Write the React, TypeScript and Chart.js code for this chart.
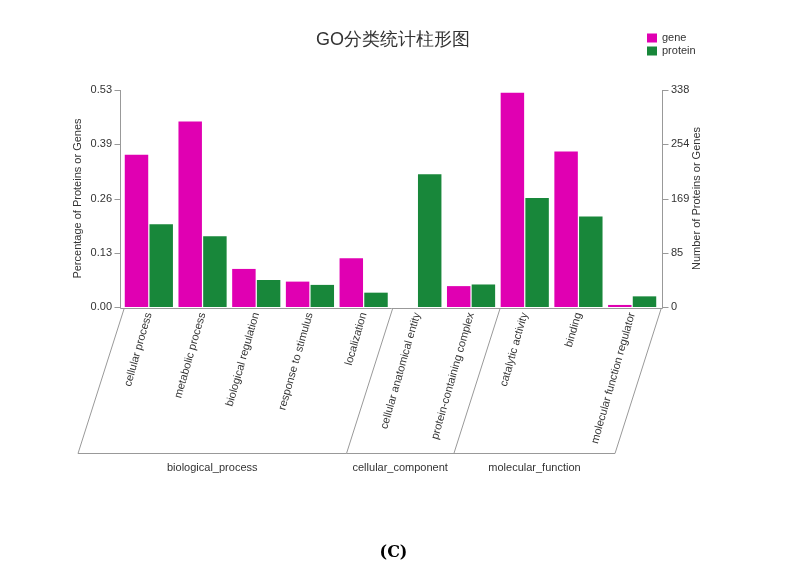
import React, { useEffect, useRef } from "react";
import { Chart, registerables } from "chart.js";

Chart.register(...registerables);

const titleText = "GO分类统计柱形图";
const categories = [
  "cellular process",
  "metabolic process",
  "biological regulation",
  "response to stimulus",
  "localization",
  "cellular anatomical entity",
  "protein-containing complex",
  "catalytic activity",
  "binding",
  "molecular function regulator",
];
const groupNames = ["biological_process", "cellular_component", "molecular_function"];
const groupBounds = [0, 5, 7, 10];
const genePct = [0.372, 0.453, 0.093, 0.062, 0.119, 0, 0.051, 0.523, 0.38, 0.005];
const proteinPct = [0.202, 0.173, 0.066, 0.054, 0.035, 0.324, 0.055, 0.266, 0.221, 0.026];
const leftMax = 0.53;
const rightMax = 338;
const leftTickLabels = ["0.00", "0.13", "0.26", "0.39", "0.53"];
const rightTickLabels = ["0", "85", "169", "254", "338"];
const leftAxisTitle = "Percentage of Proteins or Genes";
const rightAxisTitle = "Number of Proteins or Genes";
const seriesNames = ["gene", "protein"];
const seriesColors = ["#e000b2", "#18873a"];
const caption = "(C)";

const FONT = "'Liberation Sans', Arial, sans-serif";
const TEXT = "#333";
const LINE = "#999";

const overlay = {
  id: "overlay",
  afterDraw(chart: any) {
    const ctx = chart.ctx;
    const ca = chart.chartArea;
    const xs = chart.scales.x;
    const yl = chart.scales.y;
    const yr = chart.scales.y2;
    ctx.save();

    // title
    ctx.fillStyle = TEXT;
    ctx.font = `18px ${FONT}`;
    ctx.textAlign = "center";
    ctx.textBaseline = "middle";
    ctx.fillText(titleText, 393, 40);

    // legend
    ctx.font = `11px ${FONT}`;
    ctx.textAlign = "left";
    seriesNames.forEach((n, i) => {
      const y = 38 + i * 13;
      ctx.fillStyle = seriesColors[i];
      ctx.fillRect(647, y - 4.5, 10, 9);
      ctx.fillStyle = TEXT;
      ctx.fillText(n, 662, y);
    });

    // axis titles
    ctx.font = `11px ${FONT}`;
    ctx.textAlign = "center";
    ctx.textBaseline = "middle";
    const midY = (ca.top + ca.bottom) / 2;
    ctx.save();
    ctx.translate(78, midY);
    ctx.rotate(-Math.PI / 2);
    ctx.fillText(leftAxisTitle, 0, 0);
    ctx.restore();
    ctx.save();
    ctx.translate(697, midY);
    ctx.rotate(-Math.PI / 2);
    ctx.fillText(rightAxisTitle, 0, 0);
    ctx.restore();

    // axis lines and ticks
    ctx.strokeStyle = LINE;
    ctx.lineWidth = 1;
    const lx = Math.round(ca.left - 2) + 0.5;
    const rx = Math.round(ca.right + 3) + 0.5;
    const by = Math.round(ca.bottom + 1) + 0.5;
    ctx.beginPath();
    ctx.moveTo(lx, yl.getPixelForValue(leftMax));
    ctx.lineTo(lx, by);
    ctx.moveTo(rx, yr.getPixelForValue(rightMax));
    ctx.lineTo(rx, by);
    ctx.moveTo(lx, by);
    ctx.lineTo(rx, by);
    leftTickLabels.forEach((_, i) => {
      const y = Math.round(yl.getPixelForValue((leftMax * i) / 4)) + 0.5;
      ctx.moveTo(lx - 6, y);
      ctx.lineTo(lx, y);
    });
    rightTickLabels.forEach((_, i) => {
      const y = Math.round(yr.getPixelForValue((rightMax * i) / 4)) + 0.5;
      ctx.moveTo(rx, y);
      ctx.lineTo(rx + 6, y);
    });
    ctx.stroke();

    // group parallelograms
    const topY = ca.bottom + 2;
    const botY = 453.5;
    const slant = 46;
    const pts = groupBounds.map((b) => xs.getPixelForValue(b - 0.5) + 2);
    ctx.beginPath();
    pts.forEach((px) => {
      ctx.moveTo(px, topY);
      ctx.lineTo(px - slant, botY);
    });
    ctx.moveTo(pts[0] - slant, botY);
    ctx.lineTo(pts[pts.length - 1] - slant, botY);
    ctx.stroke();

    ctx.fillStyle = TEXT;
    ctx.font = `11px ${FONT}`;
    ctx.textAlign = "center";
    ctx.textBaseline = "middle";
    groupNames.forEach((g, i) => {
      const cx = (pts[i] + pts[i + 1]) / 2 - slant;
      ctx.fillText(g, cx, 468);
    });

    ctx.restore();
  },
};

export default function App() {
  const ref = useRef<HTMLCanvasElement | null>(null);
  useEffect(() => {
    if (!ref.current) return;
    const chart = new Chart(ref.current, {
      type: "bar",
      data: {
        labels: categories,
        datasets: [
          {
            label: seriesNames[0],
            data: genePct,
            backgroundColor: seriesColors[0],
            yAxisID: "y",
            categoryPercentage: 0.92,
            barPercentage: 0.95,
          },
          {
            label: seriesNames[1],
            data: proteinPct,
            backgroundColor: seriesColors[1],
            yAxisID: "y",
            categoryPercentage: 0.92,
            barPercentage: 0.95,
          },
        ],
      },
      options: {
        animation: false,
        responsive: false,
        maintainAspectRatio: false,
        layout: { padding: { top: 90, left: 0, right: 0, bottom: 0 } },
        plugins: {
          legend: { display: false },
          title: { display: false },
          tooltip: { enabled: false },
        },
        scales: {
          x: {
            type: "category",
            offset: true,
            grid: { display: false, drawTicks: false },
            border: { display: false },
            ticks: {
              autoSkip: false,
              minRotation: 74,
              maxRotation: 74,
              padding: 4,
              labelOffset: 0,
              color: TEXT,
              font: { size: 11, family: FONT },
            },
            afterFit: (s: any) => {
              s.height = 256;
            },
          },
          y: {
            position: "left",
            min: 0,
            max: leftMax,
            grid: { display: false, drawTicks: false },
            border: { display: false },
            afterBuildTicks: (s: any) => {
              s.ticks = leftTickLabels.map((_, i) => ({ value: (leftMax * i) / 4 }));
            },
            ticks: {
              padding: 10,
              color: TEXT,
              font: { size: 11, family: FONT },
              callback: (_v: any, i: number) => leftTickLabels[i],
            },
            afterFit: (s: any) => {
              s.width = 122;
            },
          },
          y2: {
            position: "right",
            min: 0,
            max: rightMax,
            grid: { display: false, drawTicks: false },
            border: { display: false },
            afterBuildTicks: (s: any) => {
              s.ticks = rightTickLabels.map((_, i) => ({ value: (rightMax * i) / 4 }));
            },
            ticks: {
              padding: 12,
              color: TEXT,
              font: { size: 11, family: FONT },
              callback: (_v: any, i: number) => rightTickLabels[i],
            },
            afterFit: (s: any) => {
              s.width = 128;
            },
          },
        },
      },
      plugins: [overlay],
    } as any);
    return () => chart.destroy();
  }, []);

  return (
    <div>
      <canvas
        ref={ref}
        width={787}
        height={563}
        style={{ position: "absolute", left: 0, top: 0, width: 787, height: 563 }}
      />
      <div
        style={{
          position: "absolute",
          left: 0,
          top: 540,
          width: 787,
          textAlign: "center",
          font: "bold 16px 'DejaVu Serif', serif",
          lineHeight: "23px",
          color: "#000",
        }}
      >
        {caption}
      </div>
    </div>
  );
}
